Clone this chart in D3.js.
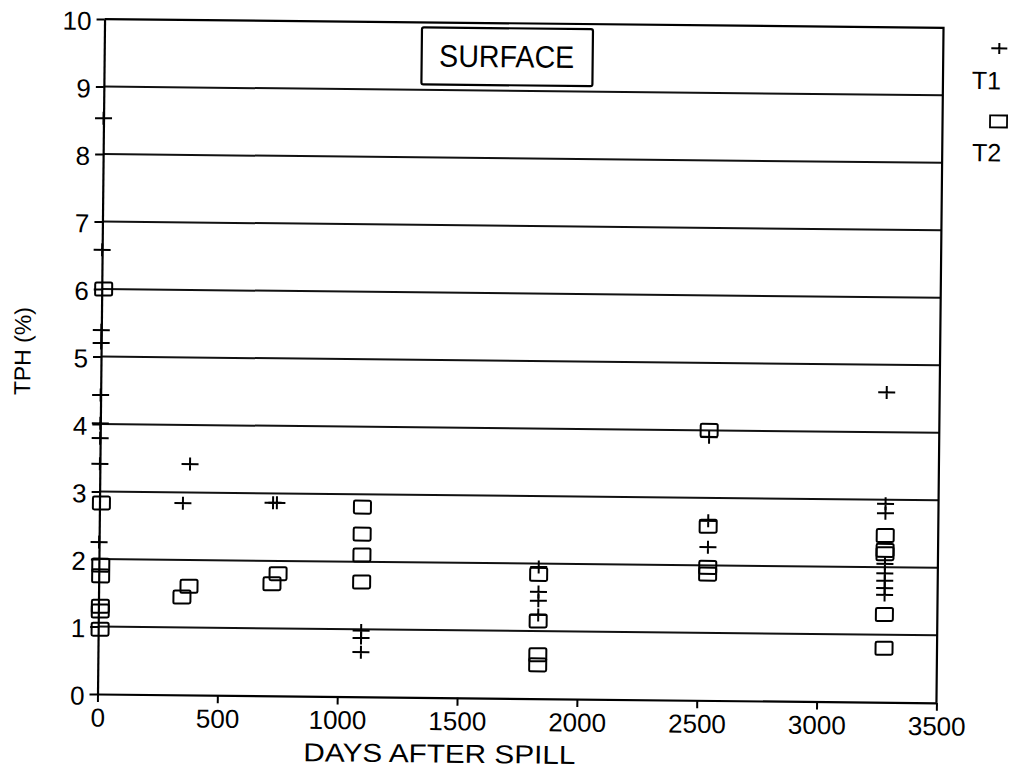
<!DOCTYPE html>
<html>
<head>
<meta charset="utf-8">
<script src="https://cdn.jsdelivr.net/npm/d3@7"></script>
<style>
  html, body { margin: 0; padding: 0; background: #fff; }
  svg { display: block; font-family: "Liberation Sans", Arial, sans-serif; }
</style>
</head>
<body>
<svg id="chart"></svg>
<script>
// tick labels
const xTicks = [0, 500, 1000, 1500, 2000, 2500, 3000, 3500];
const yTicks = [0, 1, 2, 3, 4, 5, 6, 7, 8, 9, 10];

// T1 (plus markers): days after spill / TPH %
const t1Days = [0, 0, 0, 0, 0, 0, 0, 0, 0,
    376, 348, 740, 724,
    1097, 1097, 1097,
    1835, 1835, 1835, 1835,
    2540, 2540, 2540,
    3279, 3279, 3279, 3279, 3279, 3279, 3279, 3279];
const t1Tph = [8.53, 6.58, 5.39, 5.2, 4.43, 4.01, 3.79, 3.41, 2.25,
    3.42, 2.84, 2.86, 2.86,
    0.98, 0.87, 0.66,
    1.95, 1.58, 1.45, 1.24,
    3.9, 2.66, 2.27,
    4.59, 2.94, 2.80, 2.05, 1.91, 1.80, 1.69, 1.59];

// T2 (square markers)
const t2Days = [8, 8, 8, 8, 8, 8, 8,
    377, 348, 748, 723,
    1097, 1097, 1097, 1097,
    1835, 1835, 1835, 1835,
    2540, 2540, 2540, 2540,
    3279, 3279, 3279, 3279, 3279];
const t2Tph = [6.0, 2.83, 1.91, 1.75, 1.30, 1.23, 0.96,
    1.61, 1.45, 1.81, 1.66,
    2.81, 2.41, 2.10, 1.70,
    1.84, 1.15, 0.65, 0.5,
    4.0, 2.58, 1.97, 1.87,
    2.47, 2.25, 2.2, 1.30, 0.80];

const width = 1015, height = 776;
const margin = {left: 97.5, top: 19, right: 78.5, bottom: 82};
const innerW = width - margin.left - margin.right;   // 839
const innerH = height - margin.top - margin.bottom;  // 675
const tilt = 0.6; // the scanned page is slightly rotated

const svg = d3.select('#chart')
    .attr('width', width)
    .attr('height', height);

const root = svg.append('g')
    .attr('transform', `rotate(${tilt}, ${margin.left}, ${margin.top + innerH})`);

const chart = root.append('g')
    .attr('transform', `translate(${margin.left}, ${margin.top})`);

const xscale = d3.scaleLinear().domain([0, 3500]).range([0, innerW]);
const yscale = d3.scaleLinear().domain([0, 10]).range([innerH, 0]);

// horizontal grid lines
chart.append('g')
    .selectAll('line')
    .data(yTicks.filter(d => d > 0 && d < 10))
    .join('line')
    .attr('x1', 0)
    .attr('x2', innerW)
    .attr('y1', d => yscale(d))
    .attr('y2', d => yscale(d))
    .attr('stroke', '#111')
    .attr('stroke-width', 2);

// axes
const xaxis = d3.axisBottom(xscale)
    .tickValues(xTicks)
    .tickFormat(d3.format('d'))
    .tickSize(8)
    .tickPadding(6)
    .tickSizeOuter(0);

const yaxis = d3.axisLeft(yscale)
    .tickValues(yTicks)
    .tickFormat(d3.format('d'))
    .tickSize(8)
    .tickPadding(5)
    .tickSizeOuter(0);

const xaxis_group = chart.append('g')
    .attr('transform', `translate(0, ${innerH})`)
    .call(xaxis);

const yaxis_group = chart.append('g')
    .call(yaxis);

[xaxis_group, yaxis_group].forEach(g => {
    g.select('.domain').attr('stroke', '#000').attr('stroke-width', 2.2);
    g.selectAll('.tick line').attr('stroke', '#000').attr('stroke-width', 2);
    g.selectAll('.tick text')
        .attr('fill', '#000')
        .style('font-family', '"Liberation Sans", Arial, sans-serif')
        .style('font-size', '26px');
});
yaxis_group.selectAll('.tick text').attr('dy', '0.4em');

// top and right border of the frame
chart.append('path')
    .attr('d', `M0,0H${innerW}V${innerH}`)
    .attr('fill', 'none')
    .attr('stroke', '#000')
    .attr('stroke-width', 2.2);

// markers
const plusPath = 'M-8.5,0H8.5M0,-6.5V6.5';

chart.append('g')
    .selectAll('path')
    .data(t1Days.map((d, i) => ({day: d, tph: t1Tph[i]})))
    .join('path')
    .attr('d', plusPath)
    .attr('transform', d => `translate(${xscale(d.day)}, ${yscale(d.tph)})`)
    .attr('stroke', '#000')
    .attr('stroke-width', 2)
    .attr('fill', 'none');

chart.append('g')
    .selectAll('rect')
    .data(t2Days.map((d, i) => ({day: d, tph: t2Tph[i]})))
    .join('rect')
    .attr('x', d => xscale(d.day) - 8.5)
    .attr('y', d => yscale(d.tph) - 6.5)
    .attr('width', 17)
    .attr('height', 13)
    .attr('rx', 1.5)
    .attr('stroke', '#000')
    .attr('stroke-width', 2)
    .attr('fill', 'none');

// SURFACE label box
root.append('rect')
    .attr('x', 415)
    .attr('y', 24)
    .attr('width', 171)
    .attr('height', 57)
    .attr('rx', 2)
    .attr('fill', '#fff')
    .attr('stroke', '#000')
    .attr('stroke-width', 2.2);

root.append('text')
    .attr('x', 500)
    .attr('y', 63)
    .attr('text-anchor', 'middle')
    .attr('textLength', 135)
    .attr('lengthAdjust', 'spacingAndGlyphs')
    .style('font-size', '31px')
    .text('SURFACE');

// legend
root.append('path')
    .attr('d', 'M-8,0H8M0,-5.5V5.5')
    .attr('transform', 'translate(992.5, 39)')
    .attr('stroke', '#000')
    .attr('stroke-width', 2);

root.append('text')
    .attr('x', 980)
    .attr('y', 80)
    .attr('text-anchor', 'middle')
    .style('font-size', '25px')
    .text('T1');

root.append('rect')
    .attr('x', 984)
    .attr('y', 106)
    .attr('width', 17)
    .attr('height', 12)
    .attr('fill', 'none')
    .attr('stroke', '#000')
    .attr('stroke-width', 1.8);

root.append('text')
    .attr('x', 981)
    .attr('y', 152)
    .attr('text-anchor', 'middle')
    .style('font-size', '25px')
    .text('T2');

// axis titles
root.append('text')
    .attr('x', 440)
    .attr('y', 759)
    .attr('text-anchor', 'middle')
    .attr('textLength', 272)
    .attr('lengthAdjust', 'spacingAndGlyphs')
    .style('font-size', '26px')
    .text('DAYS AFTER SPILL');

root.append('text')
    .attr('transform', 'translate(27, 352) rotate(-90)')
    .attr('text-anchor', 'middle')
    .style('font-size', '23px')
    .text('TPH (%)');
</script>
</body>
</html>
